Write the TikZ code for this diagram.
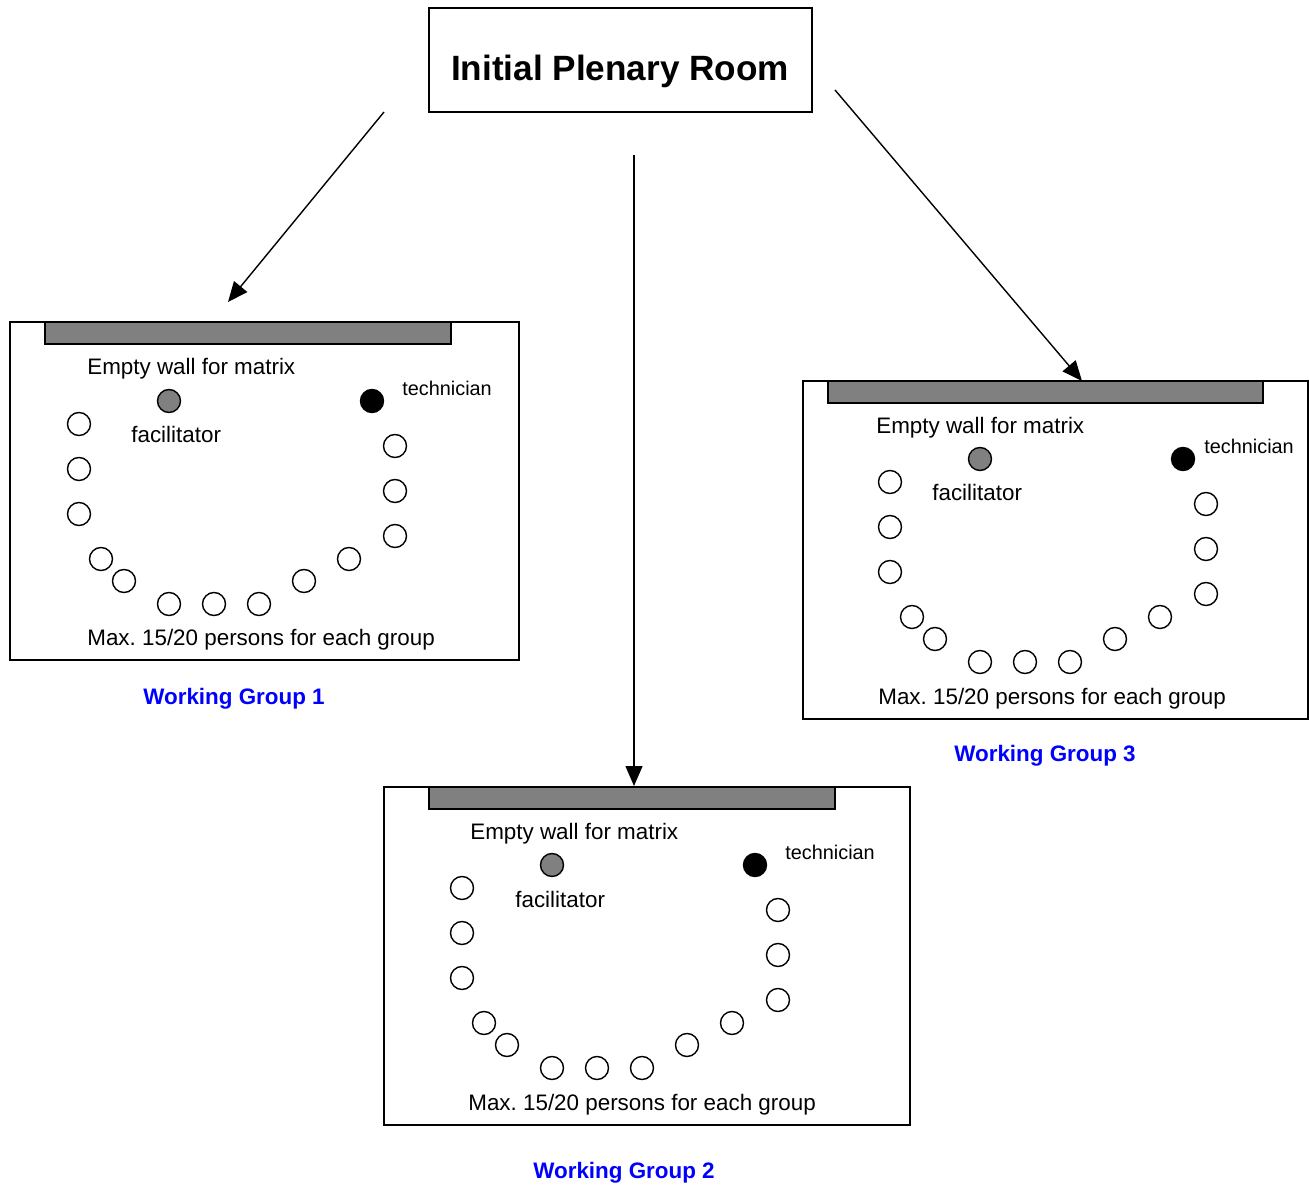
\documentclass[tikz,border=0pt]{standalone}
\usepackage{fontspec}
\setmainfont{Liberation Sans}
\usepackage{xcolor}
\usetikzlibrary{arrows.meta,positioning}
\definecolor{wallGrey}{RGB}{128,128,128}
\definecolor{groupBlue}{RGB}{0,0,255}
\frenchspacing
\newcommand{\roomfont}{\fontsize{12.75}{15}\selectfont}
\newcommand{\techfont}{\fontsize{11.3}{13}\selectfont}
\newcommand{\seatring}[3]{%
  \foreach \dx/\dy [count=\k] in {0/0,0/45,0/90,22/135,45/157,90/180,135/180,180/180,225/157,270/135,316/112,316/67,316/22} {
    \node[seat] (#3s\k) at (#1+\dx,#2+\dy) {};
  }
  \node[seat,fill=wallGrey] (#3fac) at (#1+90,#2-23) {};
  \node[seat,fill=black] (#3tec) at (#1+293,#2-23) {};
}

\begin{document}
\begin{tikzpicture}[x=0.02cm,y=-0.02cm,
    seat/.style={circle,draw=black,fill=white,line width=0.8pt,minimum size=0.46cm,inner sep=0pt},
    roomline/.style={draw=black,line width=0.8pt},
    wallbar/.style={draw=black,fill=wallGrey,line width=0.8pt},
    roomtext/.style={anchor=west,inner sep=0pt,yshift=-0.06cm,font=\roomfont},
    techtext/.style={anchor=west,inner sep=0pt,font=\techfont},
    grouplabel/.style={inner sep=0pt,yshift=-0.06cm,font=\roomfont\bfseries\color{groupBlue}},
    move/.style={-{Triangle[length=0.4cm,width=0.34cm]},line width=0.8pt}]
  \useasboundingbox (0,0) rectangle (1309,1185);

  % plenary room
  \node[draw,line width=0.8pt,minimum width=7.66cm,minimum height=2.08cm] (plenary) at (620.5,60) {};
  \node[font=\fontsize{20}{24}\selectfont\bfseries,inner sep=0pt] (plenarytxt) at (620,71) {Initial Plenary Room};

  % working group 1
  \draw[roomline] (10,322) rectangle (519,660);
  \draw[wallbar] (45,322) rectangle (451,344);
  \seatring{79}{424}{ra}
  \node[roomtext] (ra wall) at (87,366) {Empty wall for matrix};
  \node[techtext] (ra tech) at (402,388) {technician};
  \node[techtext,font=\roomfont] (ra facil) at (131,434) {facilitator};
  \node[roomtext] (ra max) at (87,637) {Max. 15/20 persons for each group};
  \node[grouplabel] (ra name) at (234,696) {Working Group 1};

  % working group 2
  \draw[roomline] (384,787) rectangle (910,1125);
  \draw[wallbar] (429,787) rectangle (835,809);
  \seatring{462}{888}{rb}
  \node[roomtext] (rb wall) at (470,831) {Empty wall for matrix};
  \node[techtext] (rb tech) at (785,852) {technician};
  \node[techtext,font=\roomfont] (rb facil) at (515,899) {facilitator};
  \node[roomtext] (rb max) at (468,1102) {Max. 15/20 persons for each group};
  \node[grouplabel] (rb name) at (624,1170) {Working Group 2};

  % working group 3
  \draw[roomline] (803,381) rectangle (1308,719);
  \draw[wallbar] (828,381) rectangle (1263,403);
  \seatring{890}{482}{rc}
  \node[roomtext] (rc wall) at (876,425) {Empty wall for matrix};
  \node[techtext] (rc tech) at (1204,446) {technician};
  \node[techtext,font=\roomfont] (rc facil) at (932,492) {facilitator};
  \node[roomtext] (rc max) at (878,696) {Max. 15/20 persons for each group};
  \node[grouplabel] (rc name) at (1045,753) {Working Group 3};

  % moves out of the plenary
  \coordinate (go a) at (384,112);
  \coordinate (to a) at (228,302);
  \coordinate (go b) at (634,155);
  \coordinate (to b) at (634,786);
  \coordinate (go c) at (835,90);
  \coordinate (to c) at (1082,381);
  \draw[move] (go a) -- (to a);
  \draw[move] (go b) -- (to b);
  \draw[move] (go c) -- (to c);
\end{tikzpicture}
\end{document}
